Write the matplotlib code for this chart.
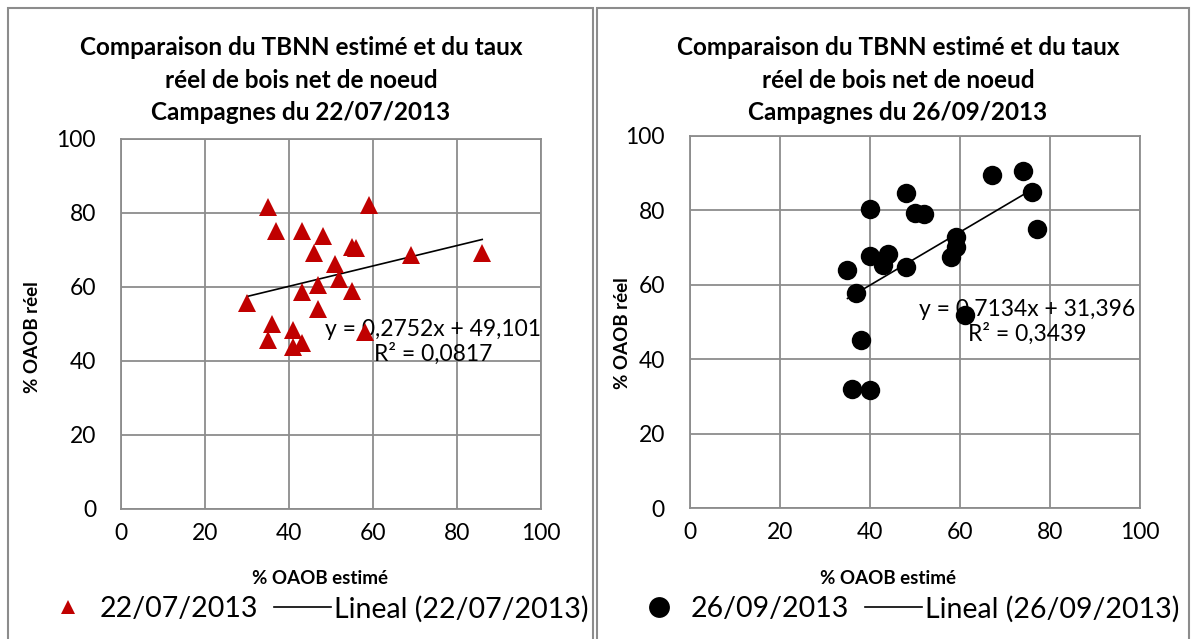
import matplotlib
matplotlib.use("Agg")
import matplotlib.pyplot as plt
from matplotlib.lines import Line2D
from matplotlib.patches import Rectangle

plt.rcParams['font.family'] = ['Lato', 'DejaVu Sans']

# campagne du 22/07/2013
x_2207 = [35, 59, 37, 43, 48, 46, 55, 56, 51, 52, 47, 43, 55, 30, 47, 36, 41, 58, 35, 41, 43, 69, 86]
y_2207 = [81.6, 82.1, 75.1, 75.1, 73.7, 69.0, 70.6, 70.4, 66.1, 62.1, 60.5, 58.6, 58.9, 55.5,
          53.9, 49.8, 48.3, 47.8, 45.6, 43.8, 44.7, 68.6, 69.0]
slope_2207, icpt_2207, r2_2207 = 0.2752, 49.101, 0.0817

# campagne du 26/09/2013
x_2609 = [67, 74, 76, 77, 40, 48, 50, 52, 59, 59, 58, 40, 44, 43, 48, 35, 37, 61, 38, 36, 40]
y_2609 = [89.5, 90.7, 84.9, 75.0, 80.4, 84.8, 79.2, 79.0, 72.8, 70.3, 67.4, 67.8, 68.3, 65.3,
          64.9, 64.0, 57.9, 51.9, 45.2, 32.0, 31.8]
slope_2609, icpt_2609, r2_2609 = 0.7134, 31.396, 0.3439

ticks = [0, 20, 40, 60, 80, 100]
GRID = '#8c8c8c'
W, H = 1194, 639


def fmt(v, nd):
    return f"{v:.{nd}f}".replace('.', ',')


def panel(ax, xs, ys, slope, icpt, r2, marker, color, ms, eq_xy):
    xmin, xmax = min(xs), max(xs)
    ax.plot([xmin, xmax], [slope * xmin + icpt, slope * xmax + icpt],
            color='black', lw=1.2, zorder=2)
    ax.plot(xs, ys, linestyle='none', marker=marker, ms=ms, color=color,
            markeredgewidth=0, zorder=3)
    ax.set_xlim(0, 100)
    ax.set_ylim(0, 100)
    ax.set_xticks(ticks)
    ax.set_yticks(ticks)
    ax.grid(True, color=GRID, lw=1.3)
    ax.set_axisbelow(True)
    for s in ax.spines.values():
        s.set_color(GRID)
        s.set_linewidth(1.3)
    ax.tick_params(length=0, labelsize=16.5)
    ax.tick_params(axis='x', pad=10)
    ax.tick_params(axis='y', pad=18)
    ex, ey = eq_xy
    ax.text(ex, ey, f"y = {fmt(slope, 4)}x + {fmt(icpt, 3)}\nR² = {fmt(r2, 4)}",
            transform=ax.transAxes, ha='right', va='center', fontsize=16.5,
            multialignment='center', linespacing=1.15, zorder=1)


fig = plt.figure(figsize=(W / 100, H / 100), dpi=100)

ax1 = fig.add_axes([121 / W, 1 - 508.7 / H, 420 / W, 370 / H])
ax2 = fig.add_axes([690 / W, 1 - 508.3 / H, 450 / W, 372.3 / H])

panel(ax1, x_2207, y_2207, slope_2207, icpt_2207, r2_2207, '^', '#c00000', 13.5, (1.0, 0.45))
panel(ax2, x_2609, y_2609, slope_2609, icpt_2609, r2_2609, 'o', 'black', 14, (0.99, 0.50))

# cadres des deux graphiques
for x0, x1 in [(8, 593), (597, 1189)]:
    fig.patches.append(Rectangle((x0 / W, -0.01), (x1 - x0) / W, 1.01 - 8 / H,
                                 transform=fig.transFigure, fill=False,
                                 edgecolor=GRID, lw=1.5))

for cx, date in [(301, '22/07/2013'), (898, '26/09/2013')]:
    fig.text(cx / W, 1 - 80 / H,
             "Comparaison du TBNN estimé et du taux\nréel de bois net de noeud\nCampagnes du " + date,
             ha='center', va='center', fontsize=17.5, fontweight='bold', linespacing=1.5)

lab = dict(ha='center', va='center', fontsize=13.5, fontweight='bold')
fig.text(320 / W, 1 - 578 / H, '% OAOB estimé', **lab)
fig.text(888 / W, 1 - 578 / H, '% OAOB estimé', **lab)
fig.text(33 / W, 1 - 337 / H, '% OAOB réel', rotation=90, **lab)
fig.text(622 / W, 1 - 333 / H, '% OAOB réel', rotation=90, **lab)

for cx, marker, color, ms, date in [(314, '^', '#c00000', 10, '22/07/2013'),
                                     (905, 'o', 'black', 15, '26/09/2013')]:
    handles = [Line2D([], [], linestyle='none', marker=marker, ms=ms, color=color, markeredgewidth=0),
               Line2D([], [], color='black', lw=1.2)]
    fig.legend(handles, [date, f'Lineal ({date})'], loc='center',
               bbox_to_anchor=(cx / W, 1 - 609 / H), ncol=2, frameon=False,
               fontsize=20.5, handlelength=2.0, handletextpad=0.1, columnspacing=0.55,
               borderpad=0)

fig.savefig('out.png', dpi=100)
